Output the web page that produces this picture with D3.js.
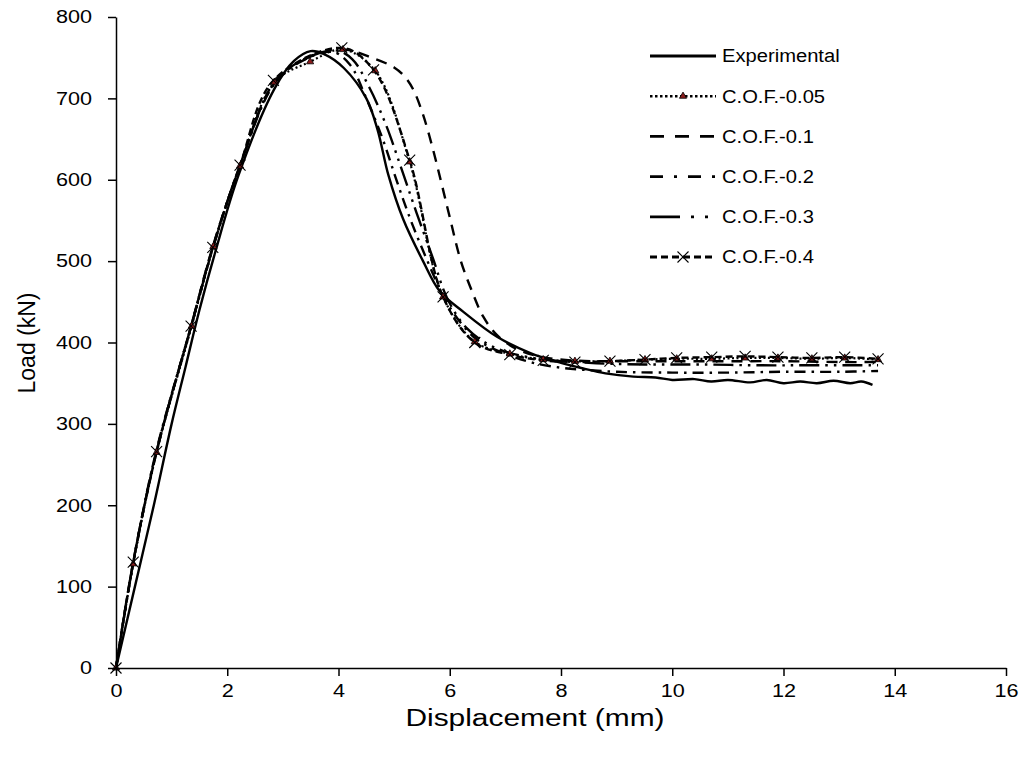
<!DOCTYPE html>
<html><head><meta charset="utf-8">
<script src="https://cdn.jsdelivr.net/npm/d3@7"></script>
<style>body{margin:0;background:#fff}svg{display:block}text{font-family:"Liberation Sans",Arial,sans-serif;fill:#000}</style>
</head><body><svg id="c" width="1027" height="758"></svg>
<script>
const xTicks = [0,2,4,6,8,10,12,14,16];
const yTicks = [0,100,200,300,400,500,600,700,800];
const seriesNames = ["Experimental","C.O.F.-0.05","C.O.F.-0.1","C.O.F.-0.2","C.O.F.-0.3","C.O.F.-0.4"];

const experimental = [[0,0],[0.34,100],[0.68,200],[1.0,300],[1.25,370],[1.5,440],[1.78,510],[2.2,605],[2.85,712],[3.2,746],[3.5,758],[3.75,754],[4.1,737],[4.5,700],[4.7,662],[4.9,605],[5.16,552],[5.52,500],[5.82,463],[6.24,438],[6.85,407],[7.45,387],[8.0,375],[8.4,368],[8.8,362],[9.3,358],[9.7,357],[10.0,354],[10.4,355],[10.7,352],[11.0,354],[11.4,351],[11.7,354],[12.0,350],[12.3,352],[12.6,350],[12.9,353],[13.2,350],[13.4,352],[13.6,348]];
const cof005 = [[0,0],[0.31,128],[0.73,265],[1.36,420],[1.75,518],[2.23,617],[2.85,720],[3.49,745],[4.08,760],[4.66,734],[5.28,622],[5.88,456],[6.45,401],[7.08,386],[7.68,379],[8.25,377],[8.88,377],[9.51,379],[10.08,380],[10.71,380],[11.31,381],[11.9,381],[12.51,380],[13.1,381],[13.7,379]];
const cof01 = [[0,0],[0.3,127],[0.72,263],[1.35,420],[1.74,518],[2.22,615],[2.85,720],[3.5,752],[4.1,760],[4.6,750],[5.0,738],[5.2,726],[5.35,710],[5.52,680],[5.7,637],[5.85,596],[6.0,554],[6.2,500],[6.4,463],[6.6,432],[6.85,409],[7.2,392],[7.6,383],[8.2,378],[9.0,377],[10.0,377],[11.0,377],[12.0,377],[13.0,376],[13.7,376]];
const cof02 = [[0,0],[0.3,125],[0.7,260],[1.35,420],[1.75,518],[2.2,612],[2.85,718],[3.4,748],[3.9,757],[4.2,742],[4.5,700],[4.8,649],[5.05,598],[5.3,550],[5.6,500],[5.9,455],[6.2,424],[6.5,403],[7.0,386],[7.5,375],[8.0,369],[8.5,366],[9.0,364],[10.0,363],[11.0,363],[12.0,364],[13.0,364],[13.7,365]];
const cof03 = [[0,0],[0.3,126],[0.71,261],[1.35,420],[1.75,518],[2.21,614],[2.85,719],[3.45,750],[3.95,759],[4.25,748],[4.55,714],[4.85,668],[5.1,620],[5.4,560],[5.7,503],[5.95,455],[6.3,418],[6.8,394],[7.5,381],[8.5,375],[9.5,373],[10.5,373],[11.5,372],[12.5,372],[13.7,372]];
const cof04 = [[0,0],[0.31,130],[0.73,266],[1.35,420],[1.74,517],[2.23,618],[2.83,722],[4.06,762],[4.63,735],[5.28,624],[5.88,456],[6.45,400],[7.08,385],[7.68,378],[8.25,376],[8.88,377],[9.51,379],[10.08,381],[10.71,382],[11.31,383],[11.9,382],[12.51,381],[13.1,382],[13.7,380]];

const svg = d3.select("#c");
svg.append("rect").attr("width",1027).attr("height",758).attr("fill","#fff");
const x = d3.scaleLinear().domain([0,16]).range([116,1006]);
const y = d3.scaleLinear().domain([0,800]).range([668,17]);

const styles = [
  {data:experimental, dash:null, width:2.4, legendDash:null, marker:null},
  {data:cof005, dash:"2,2.5", width:2.2, legendDash:"2.5,2.5", marker:"tri"},
  {data:cof01, dash:"11,8", width:2.4, legendDash:"14,11", marker:null},
  {data:cof02, dash:"11,6,2.5,6", width:2.4, legendDash:"13,11,3,11", marker:null},
  {data:cof03, dash:"20,6,2.5,6,2.5,6", width:2.4, legendDash:"30,11,3,11,3,11", marker:null},
  {data:cof04, dash:"7,4", width:2.4, legendDash:"7,4", marker:"x"}
];

const line = d3.line().x(d=>x(d[0])).y(d=>y(d[1])).curve(d3.curveCatmullRom.alpha(0.5));

const g = svg.append("g");
styles.slice().reverse().forEach(s=>{
  g.append("path").attr("d",line(s.data)).attr("fill","none").attr("stroke","#000")
   .attr("stroke-width",s.width).attr("stroke-dasharray",s.dash);
});
function drawMarker(sel, type, cx, cy){
  if(type==="x"){
    sel.append("path").attr("d",`M${cx-5.5},${cy-5.5}L${cx+5.5},${cy+5.5}M${cx-5.5},${cy+5.5}L${cx+5.5},${cy-5.5}`)
      .attr("stroke","#000").attr("stroke-width",1.1).attr("fill","none");
  } else if(type==="tri"){
    sel.append("path").attr("d",d3.symbol().type(d3.symbolTriangle).size(22)())
      .attr("transform",`translate(${cx},${cy})`).attr("fill","#8b1c1c").attr("stroke","#000").attr("stroke-width",0.8);
  }
}
styles.forEach(s=>{
  if(!s.marker) return;
  s.data.forEach(d=>drawMarker(g,s.marker,x(d[0]),y(d[1])));
});

function stretch(sel, k){
  sel.each(function(){
    const w = this.getComputedTextLength();
    d3.select(this).attr("textLength", w*k).attr("lengthAdjust","spacingAndGlyphs");
  });
}

const ya = svg.append("g").attr("transform","translate(116,0)")
  .call(d3.axisLeft(y).tickValues(yTicks).tickSize(8).tickPadding(16).tickSizeOuter(0));
const xa = svg.append("g").attr("transform","translate(0,668)")
  .call(d3.axisBottom(x).tickValues(xTicks).tickSize(8).tickPadding(8).tickSizeOuter(0));
[ya,xa].forEach(a=>{
  a.select(".domain").attr("stroke","#000").attr("stroke-width",1.5);
  a.selectAll(".tick line").attr("stroke","#000").attr("stroke-width",1.5);
  a.selectAll("text").attr("font-size",18).attr("font-family","Liberation Sans, Arial, sans-serif").attr("fill","#000");
  stretch(a.selectAll("text"),1.2);
});

const xt = svg.append("text").attr("x",535).attr("y",726).attr("text-anchor","middle").attr("font-size",23).text("Displacement (mm)");
stretch(xt,1.3);
svg.append("text").attr("transform","translate(35,343) rotate(-90)").attr("text-anchor","middle").attr("font-size",23).text("Load (kN)");

const lg = svg.append("g");
seriesNames.forEach((name,i)=>{
  const s = styles[i];
  const ry = 56 + i*40.2;
  lg.append("line").attr("x1",650).attr("x2",716).attr("y1",ry).attr("y2",ry)
    .attr("stroke","#000").attr("stroke-width",s.width+0.4).attr("stroke-dasharray",s.legendDash);
  if(s.marker) drawMarker(lg,s.marker,683,ry);
  const t = lg.append("text").attr("x",722).attr("y",ry).attr("dy","0.35em").attr("font-size",18).text(name);
  stretch(t,1.12);
});
</script></body></html>
